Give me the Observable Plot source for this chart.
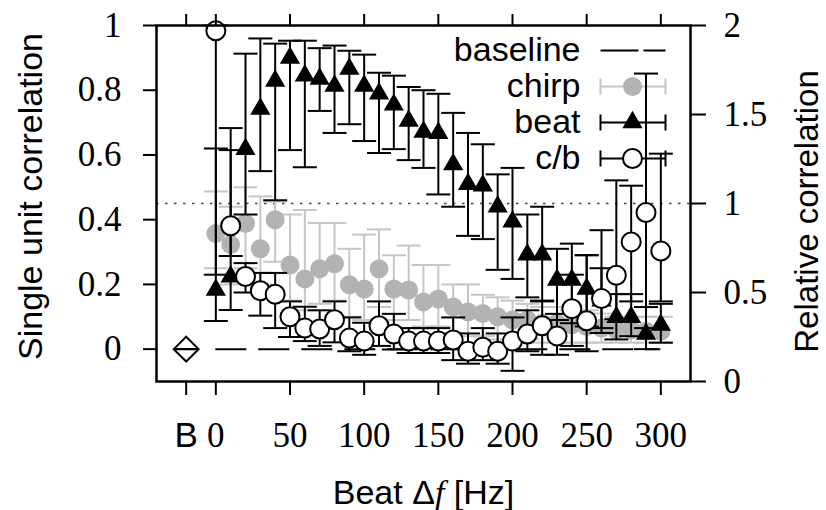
<!DOCTYPE html>
<html><head><meta charset="utf-8">
<script src="https://cdn.jsdelivr.net/npm/d3@7"></script>
<script src="https://cdn.jsdelivr.net/npm/@observablehq/plot@0.6"></script>
<style>body{margin:0;background:#fff;}</style>
</head><body><div id="chart"></div>
<script>
// ---- data ----
const freqs = [0,10,20,30,40,50,60,70,80,90,100,110,120,130,140,150,160,170,180,190,200,210,220,230,240,250,260,270,280,290,300];
const beat   = [0.183,0.224,0.618,0.742,0.829,0.900,0.845,0.835,0.813,0.866,0.813,0.789,0.755,0.705,0.671,0.667,0.571,0.510,0.505,0.440,0.394,0.292,0.292,0.214,0.214,0.186,0.150,0.099,0.099,0.047,0.075];
const beatLo = [0.087,0.121,0.416,0.550,0.460,0.615,0.562,0.736,0.668,0.695,0.643,0.606,0.618,0.584,0.560,0.478,0.440,0.350,0.340,0.245,0.217,0.160,0.150,0.090,0.080,0.070,0.050,0.030,0.040,0.000,0.020];
const beatHi = [0.620,0.683,0.913,0.960,0.944,0.953,0.953,0.930,0.938,0.922,0.910,0.854,0.845,0.810,0.800,0.789,0.730,0.668,0.633,0.540,0.560,0.416,0.440,0.310,0.326,0.290,0.250,0.170,0.170,0.130,0.140];
const chirp   = [0.357,0.323,0.388,0.310,0.400,0.260,0.217,0.248,0.264,0.199,0.186,0.248,0.186,0.183,0.146,0.155,0.130,0.115,0.110,0.100,0.090,0.090,0.080,0.080,0.075,0.070,0.065,0.060,0.060,0.055,0.055];
const chirpLo = [0.250,0.200,0.250,0.200,0.270,0.150,0.120,0.140,0.150,0.100,0.090,0.130,0.090,0.090,0.070,0.070,0.050,0.040,0.040,0.030,0.030,0.030,0.020,0.020,0.020,0.020,0.020,0.020,0.020,0.020,0.020];
const chirpHi = [0.487,0.440,0.500,0.472,0.456,0.416,0.430,0.390,0.390,0.310,0.354,0.370,0.290,0.320,0.260,0.260,0.200,0.200,0.168,0.160,0.150,0.140,0.130,0.130,0.120,0.120,0.110,0.100,0.100,0.100,0.100];
// c/b in relative units (right axis)
const cb   = [1.970,0.875,0.590,0.510,0.490,0.364,0.300,0.295,0.347,0.244,0.227,0.313,0.267,0.227,0.227,0.227,0.233,0.170,0.193,0.170,0.227,0.267,0.313,0.256,0.409,0.341,0.466,0.597,0.784,0.949,0.733];
const cbLo = [0.600,0.705,0.500,0.370,0.300,0.250,0.227,0.200,0.220,0.170,0.150,0.200,0.180,0.160,0.160,0.160,0.120,0.100,0.120,0.100,0.060,0.170,0.150,0.150,0.200,0.170,0.300,0.350,0.450,0.300,0.450];
const cbHi = [2.000,1.300,0.665,0.610,0.610,0.450,0.420,0.400,0.450,0.360,0.330,0.450,0.380,0.300,0.300,0.300,0.360,0.270,0.300,0.270,0.360,0.400,0.450,0.380,0.600,0.710,0.850,1.130,1.100,1.730,1.280];
// baseline point ("B") and baseline level
const baselinePos = [-20];
const baselineVal = [0];
const baselineLo = [0];
const baselineHi = [0];
const baselineSpan = [0, 300];
const relRef = 1;
// ticks
const xTicks = [-20,0,50,100,150,200,250,300];
const xTickLabels = ["B","0","50","100","150","200","250","300"];
const yTicks = [0,0.2,0.4,0.6,0.8,1];
const relTicks = [0,0.5,1,1.5,2];
const legendLabels = ["baseline","chirp","beat","c/b"];

// secondary (relative) axis: left-value = -0.1 + 0.55 * relative
const rel = r => -0.1 + 0.55 * r;
const unrel = v => (v + 0.1) / 0.55;

const rows = (vals, lo, hi, xs, conv = d => d) =>
  xs.map((f, i) => ({f, v: conv(vals[i]), lo: conv(lo[i]), hi: conv(hi[i])}));
const beatRows = rows(beat, beatLo, beatHi, freqs);
const chirpRows = rows(chirp, chirpLo, chirpHi, freqs);
const cbRows = rows(cb, cbLo, cbHi, freqs, rel);
const baseRows = rows(baselineVal, baselineLo, baselineHi, baselinePos);

const cap = {draw(ctx){ ctx.moveTo(-12,0); ctx.lineTo(12,0); }};
const legBar = {draw(ctx){ ctx.moveTo(-32,0); ctx.lineTo(33,0); ctx.moveTo(-32,-8); ctx.lineTo(-32,8); ctx.moveTo(33,-8); ctx.lineTo(33,8); }};
const legDash = {draw(ctx){ ctx.moveTo(-32,0); ctx.lineTo(6,0); ctx.moveTo(11,0); ctx.lineTo(33,0); }};

const GRAY_DOT = "#b3b3b3", GRAY_BAR = "#c6c6c6";
const SANS = "Liberation Sans, Arial, sans-serif";
const SERIF = "Liberation Serif, Times New Roman, serif";

function errorbars(data, color, w) {
  return [
    Plot.ruleX(data, {x: "f", y1: "lo", y2: "hi", stroke: color, strokeWidth: w}),
    Plot.dot(data, {x: "f", y: "lo", symbol: cap, r: 5, fill: "none", stroke: color, strokeWidth: w}),
    Plot.dot(data, {x: "f", y: "hi", symbol: cap, r: 5, fill: "none", stroke: color, strokeWidth: w})
  ];
}

function legendRow(i, glyphs) {
  const dy = 25 + 36 * i;
  return [
    Plot.text([legendLabels[i]], {frameAnchor: "top-right", text: d => d, dx: -110, dy, textAnchor: "end", lineAnchor: "middle", fontSize: 34, fontFamily: SANS, fill: "black"}),
    ...glyphs.map(g => Plot.dot([0], {frameAnchor: "top-right", dx: -58, dy, ...g}))
  ];
}

const chart = Plot.plot({
  width: 826, height: 510,
  marginLeft: 156, marginRight: 136, marginTop: 25, marginBottom: 129,
  x: {domain: [-40, 320]},
  y: {domain: [-0.1, 1]},
  style: {fontFamily: SANS, background: "white", color: "black", overflow: "visible"},
  marks: [
    // legend (drawn first, data on top)
    ...legendRow(0, [{symbol: legDash, r: 5, fill: "none", stroke: "black", strokeWidth: 2}]),
    ...legendRow(1, [{symbol: legBar, r: 5, fill: "none", stroke: GRAY_BAR, strokeWidth: 2},
                     {symbol: "circle", r: 9.5, fill: GRAY_DOT, stroke: "none"}]),
    ...legendRow(2, [{symbol: legBar, r: 5, fill: "none", stroke: "black", strokeWidth: 2},
                     {symbol: "triangle", r: 7.5, fill: "black", stroke: "none"}]),
    ...legendRow(3, [{symbol: legBar, r: 5, fill: "none", stroke: "black", strokeWidth: 2},
                     {symbol: "circle", r: 9.5, fill: "white", stroke: "black", strokeWidth: 2}]),
    // reference line at relative = 1
    Plot.ruleY([rel(relRef)], {stroke: "#444", strokeWidth: 1.5, strokeDasharray: "2.5,6.5"}),
    // baseline level
    Plot.ruleY(baselineVal, {x1: baselineSpan[0], x2: baselineSpan[1], stroke: "black", strokeWidth: 2, strokeDasharray: "31,12"}),
    // baseline point
    ...errorbars(baseRows, "black", 2),
    Plot.dot(baseRows, {x: "f", y: "v", symbol: "diamond2", r: 11.2, fill: "none", stroke: "black", strokeWidth: 2}),
    // chirp
    ...errorbars(chirpRows, GRAY_BAR, 2),
    Plot.dot(chirpRows, {x: "f", y: "v", r: 9.5, fill: GRAY_DOT, stroke: "none"}),
    // beat
    ...errorbars(beatRows, "black", 2),
    Plot.dot(beatRows, {x: "f", y: "v", symbol: "triangle", r: 7.5, fill: "black", stroke: "none"}),
    // c/b
    ...errorbars(cbRows, "black", 2),
    Plot.dot(cbRows, {x: "f", y: "v", r: 9.5, fill: "white", stroke: "black", strokeWidth: 2}),
    // frame and axes
    Plot.frame({stroke: "black", strokeWidth: 2.5}),
    Plot.axisY({anchor: "left", ticks: yTicks, tickSize: 13, tickPadding: 22, tickFormat: d => String(+d.toFixed(1)),
                fontSize: 35, fontFamily: SERIF, strokeWidth: 2, label: null}),
    Plot.axisY({anchor: "right", ticks: relTicks.map(rel), tickSize: 15, tickPadding: 18,
                tickFormat: d => String(+unrel(d).toFixed(1)), fontSize: 35, fontFamily: SERIF, strokeWidth: 2, label: null}),
    Plot.axisX({anchor: "bottom", ticks: xTicks, tickSize: 14, tickPadding: 27,
                tickFormat: d => xTickLabels[xTicks.indexOf(d)], fontSize: 35, fontFamily: SERIF, strokeWidth: 2, label: null}),
    Plot.axisX({anchor: "top", ticks: xTicks, tickSize: 12, tickFormat: () => "", strokeWidth: 2, label: null}),
    // axis titles
    Plot.text(["Single unit correlation"], {frameAnchor: "left", text: d => d, dx: -125, dy: -7, rotate: -90, textAnchor: "middle", lineAnchor: "middle", fontSize: 34, fontFamily: SANS, fill: "black"}),
    Plot.text(["Relative correlation"], {frameAnchor: "right", text: d => d, dx: 117, dy: 8, rotate: -90, textAnchor: "middle", lineAnchor: "middle", fontSize: 33, fontFamily: SANS, fill: "black"}),
    Plot.text(["Beat Δf [Hz]"], {frameAnchor: "bottom", text: d => d, dy: 112, textAnchor: "middle", lineAnchor: "middle", fontSize: 34, fontFamily: SANS, fill: "black"})
  ]
});
document.getElementById("chart").appendChild(chart);

// typographic touches: sans "B" tick, italic serif f
const NS = "http://www.w3.org/2000/svg";
chart.querySelectorAll("text").forEach(t => {
  if (t.textContent === "B") t.setAttribute("font-family", SANS);
  if (t.textContent === "Beat Δf [Hz]") {
    t.textContent = "";
    const parts = [["Beat Δ", null], ["f", "it"], [" [Hz]", null]];
    for (const [s, k] of parts) {
      const sp = document.createElementNS(NS, "tspan");
      sp.textContent = s;
      if (k) { sp.setAttribute("font-family", SERIF); sp.setAttribute("font-style", "italic"); }
      t.appendChild(sp);
    }
  }
});
</script>
</body></html>
